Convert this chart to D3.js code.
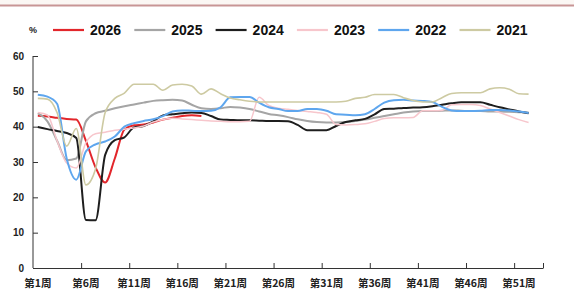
<!DOCTYPE html>
<html>
<head>
<meta charset="utf-8">
<script src="https://cdn.jsdelivr.net/npm/d3@7"></script>
<style>
  body { margin: 0; background: #fff; }
  text { font-family: "Liberation Sans", Arial, sans-serif; }
  .cjk { font-family: "Noto Sans CJK SC", sans-serif; }
</style>
</head>
<body>
<svg id="chart" width="574" height="290"></svg>
<script>
// weekly values, %
var years = ['2026', '2025', '2024', '2023', '2022', '2021'];
var weekLabels = [1, 6, 11, 16, 21, 26, 31, 36, 41, 46, 51];
var yTicks = [0, 10, 20, 30, 40, 50, 60];

var s2026 = [43.1, 42.9, 42.5, 42.2, 42, 36, 28.5, 24.2, 31, 39.2,
  40.4, 40.6, 41.2, 42, 42.5, 43, 43.2, 43];
var s2025 = [43.8, 41.5, 36, 30.5, 31, 41.5, 43.8, 44.5, 45.2, 45.8,
  46.3, 46.8, 47.3, 47.5, 47.6, 47.4, 46.2, 45.2, 45, 45.2,
  45.6, 45.4, 45, 44.3, 43.6, 43.2, 42.7, 42.1, 41.6, 41.3,
  41.2, 41.2, 41.3, 41.6, 42, 42.5, 43, 43.5, 44, 44.3,
  44.4, 44.4, 44.5, 44.6, 44.5, 44.4, 44.4, 44.3, 44.3, 44.2, 44.1, 44];
var s2024 = [39.9, 39.3, 38.8, 38.2, 36.8, 13.6, 13.5, 32, 36.2, 37,
  39.8, 40.2, 41.5, 43.2, 43.5, 43.8, 44, 43.9, 43, 42,
  41.9, 41.8, 41.8, 41.7, 41.6, 41.6, 41.5, 40.5, 39, 39,
  39, 40.2, 41.3, 41.8, 42.2, 43.5, 45, 45.1, 45.3, 45.4,
  45.5, 45.8, 46.2, 46.6, 46.9, 46.9, 46.9, 46.2, 45.5, 44.9, 44.3, 43.8];
var s2023 = [44, 43.3, 36, 29.7, 28.3, 35.5, 38, 38.4, 39, 39.3,
  39.6, 40.2, 41.3, 42, 42.4, 42.2, 42, 41.8, 41.6, 41.5,
  41.4, 41.4, 41.5, 48.3, 46, 45.2, 44.9, 44.6, 44.3, 44,
  43.5, 40.6, 40.5, 40.6, 40.8, 41.5, 42.3, 42.5, 42.5, 42.6,
  44.5, 44.5, 44.6, 46.2, 46.3, 46.3, 46, 45, 44, 43, 42, 41.2];
var s2022 = [49, 48.5, 46.5, 31, 25, 33, 35, 35.8, 37.2, 40,
  41, 41.6, 42.1, 43, 44.3, 44.6, 44.5, 44.4, 44.5, 45.5,
  48.3, 48.4, 48.4, 46.8, 45.5, 45, 44.4, 44.4, 45, 45,
  44.5, 43.5, 43.4, 43.2, 43.5, 45, 46.8, 47.5, 47.6, 47.4,
  47.3, 47, 45.6, 44.6, 44.4, 44.4, 44.5, 44.7, 44.7, 44.6, 44.3, 43.9];
var s2021 = [48, 47.8, 44, 34.5, 39.5, 23.5, 28, 44, 48, 49.5,
  52, 52, 52, 50.3, 51.8, 52, 51.5, 49.2, 50.7, 49.3,
  48.1, 47.6, 47.2, 47, 47, 47, 47, 47, 47, 47,
  47, 47, 47.2, 48, 48.3, 49.1, 49.1, 49.1, 48.2, 47.4,
  47, 47, 48.2, 49.4, 49.6, 49.6, 49.6, 50.7, 51, 50.6, 49.3, 49.2];

var seriesData = [s2026, s2025, s2024, s2023, s2022, s2021];
var colors = ['#e2262b', '#a5a5a5', '#1e1e1e', '#f7c6cc', '#5ea6ee', '#cdcaa2'];
var widths = [2, 2, 2, 1.5, 2, 1.6];

var svg = d3.select('#chart');

// thin frame line on top
svg.append('rect').attr('x', 0).attr('y', 0).attr('width', 574).attr('height', 5).attr('fill', '#fbf7f4');
svg.append('line').attr('x1', 0).attr('x2', 574).attr('y1', 5.5).attr('y2', 5.5)
  .attr('stroke', '#c89595').attr('stroke-width', 2);

var x = d3.scaleLinear().domain([0.5, 53.5]).range([33, 543]);
var y = d3.scaleLinear().domain([0, 60]).range([268, 56]);

// y axis, ticks pointing inward
var yAxis = svg.append('g').attr('transform', 'translate(33,0)')
  .call(d3.axisRight(y).tickValues(yTicks).tickSize(5).tickFormat(''));
yAxis.selectAll('line, path').attr('stroke', '#333');
yAxis.select('.domain').attr('d', 'M0,' + y(60) + 'V' + y(0));

svg.selectAll('.ylab').data(yTicks).enter().append('text')
  .attr('class', 'ylab')
  .attr('x', 24).attr('y', function(d){ return y(d) + 3.5; })
  .attr('text-anchor', 'end')
  .style('font-size', '10px').style('font-weight', 'bold').attr('fill', '#222')
  .text(function(d){ return d; });

// x axis: marks on week boundaries, labels on every 5th week
var boundaries = d3.range(5.5, 51, 5).concat([53.5]);
var xAxis = svg.append('g').attr('transform', 'translate(0,268)')
  .call(d3.axisTop(x).tickValues(boundaries).tickSize(5).tickSizeOuter(0).tickFormat(''));
xAxis.selectAll('line, path').attr('stroke', '#333');

svg.selectAll('.xlab').data(weekLabels).enter().append('text')
  .attr('class', 'xlab cjk')
  .attr('x', function(d){ return x(d); }).attr('y', 287)
  .attr('text-anchor', 'middle')
  .style('font-size', '10.5px').style('font-weight', 'bold').attr('fill', '#222')
  .text(function(d){ return '第' + d + '周'; });

// lines
var line = d3.line()
  .x(function(d, i){ return x(i + 1); })
  .y(function(d){ return y(d); })
  .curve(d3.curveMonotoneX);

seriesData.forEach(function(s, k){
  svg.append('path').datum(s)
    .attr('d', line)
    .attr('fill', 'none')
    .attr('stroke', colors[k])
    .attr('stroke-width', widths[k])
    .attr('stroke-linejoin', 'round');
});

// legend
svg.append('text').attr('x', 29).attr('y', 33)
  .style('font-size', '9px').style('font-weight', 'bold').attr('fill', '#222').text('%');

var legend = svg.selectAll('.leg').data(years).enter().append('g')
  .attr('class', 'leg')
  .attr('transform', function(d, i){ return 'translate(' + (53 + i * 81.3) + ',30)'; });
legend.append('line').attr('x1', 0).attr('x2', 31).attr('y1', 0).attr('y2', 0)
  .attr('stroke', function(d, i){ return colors[i]; }).attr('stroke-width', 2.2);
legend.append('text').attr('x', 37).attr('y', 5)
  .style('font-size', '14px').style('font-weight', 'bold').attr('fill', '#111')
  .text(function(d){ return d; });
</script>
</body>
</html>
